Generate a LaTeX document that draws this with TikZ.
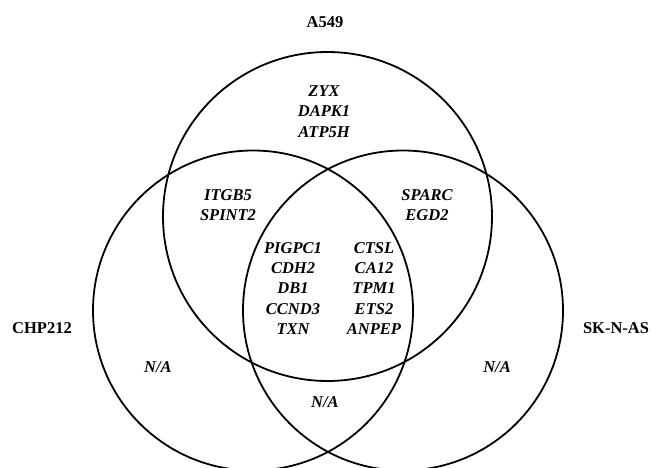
\documentclass[tikz,border=0pt]{standalone}
\usepackage{fontspec}
\setmainfont{Liberation Serif}
\usepackage{tikz}

\tikzset{
  set/.style={line width=1.8pt},
  cellname/.style={font=\fontsize{16.5}{20.2}\selectfont\bfseries},
  genes/.style={font=\fontsize{16.5}{20.2}\selectfont\bfseries\itshape, align=center, inner sep=0pt}
}

\begin{document}
\begin{tikzpicture}[x=1pt,y=-1pt]
  \useasboundingbox (0,0) rectangle (651,468);
  \clip (0,0) rectangle (651,468);

\draw[set] (327.5,216.5) circle (164.5pt);
\draw[set] (253,310.5) circle (160pt);
\draw[set] (403,310.5) circle (160pt);

\node[cellname] (a549) at (325,22) {A549};
\node[cellname] (chp) at (42,328) {CHP212};
\node[cellname] (skn) at (616,328) {SK-N-AS};

\node[genes] (top) at (324,111.5) {ZYX\\DAPK1\\ATP5H};
\node[genes] (left) at (228,205) {ITGB5\\SPINT2};
\node[genes] (right) at (427,205) {SPARC\\EGD2};
\node[genes] (midl) at (293,288.5) {PIGPC1\\CDH2\\DB1\\CCND3\\TXN};
\node[genes] (midr) at (374,288.5) {CTSL\\CA12\\TPM1\\ETS2\\ANPEP};

\node[genes] (nal) at (158,367) {N/A};
\node[genes] (nar) at (497,367) {N/A};
\node[genes] (nab) at (325,402) {N/A};
\end{tikzpicture}
\end{document}
